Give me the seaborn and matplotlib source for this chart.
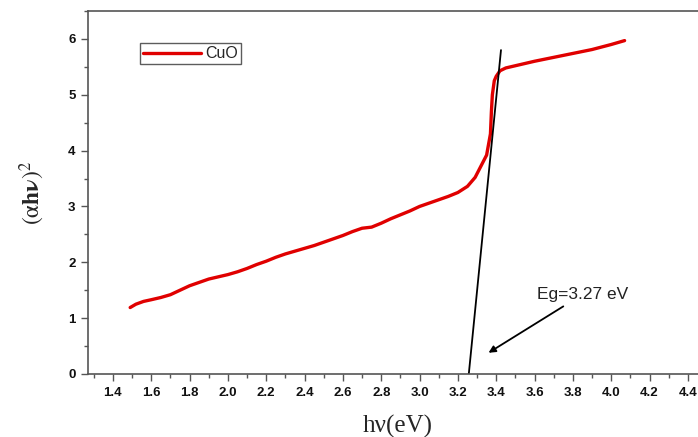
import matplotlib
matplotlib.use("Agg")
import matplotlib.pyplot as plt
import seaborn as sns
import pandas as pd
from matplotlib.ticker import MultipleLocator

# ── data ─────────────────────────────────────────────────────
energy = [1.49, 1.52, 1.56, 1.60, 1.65, 1.70, 1.75, 1.80, 1.85, 1.90, 1.95,
          2.00, 2.05, 2.10, 2.15, 2.20, 2.25, 2.30, 2.35, 2.40, 2.45, 2.50,
          2.55, 2.60, 2.65, 2.70, 2.75, 2.80, 2.85, 2.90, 2.95, 3.00, 3.05,
          3.10, 3.15, 3.20, 3.25, 3.29, 3.32, 3.35, 3.37, 3.375, 3.38, 3.39,
          3.40, 3.42, 3.45, 3.50, 3.60, 3.70, 3.80, 3.90, 4.00, 4.07]
alpha_hv2 = [1.19, 1.25, 1.30, 1.33, 1.37, 1.42, 1.50, 1.58, 1.64, 1.70, 1.74,
             1.78, 1.83, 1.89, 1.96, 2.02, 2.09, 2.15, 2.20, 2.25, 2.30, 2.36,
             2.42, 2.48, 2.55, 2.61, 2.63, 2.70, 2.78, 2.85, 2.92, 3.00, 3.06,
             3.12, 3.18, 3.25, 3.36, 3.52, 3.72, 3.92, 4.30, 4.70, 5.00, 5.25,
             5.33, 5.43, 5.48, 5.52, 5.60, 5.67, 5.74, 5.81, 5.90, 5.97]
tangent_x = [3.257, 3.425]
tangent_y = [0.0, 5.80]
eg_label = "Eg=3.27 eV"
series_name = "CuO"
xtick_vals = [1.4, 1.6, 1.8, 2.0, 2.2, 2.4, 2.6, 2.8, 3.0, 3.2, 3.4,
              3.6, 3.8, 4.0, 4.2, 4.4]
ytick_vals = [0, 1, 2, 3, 4, 5, 6]

df = pd.DataFrame({"hv": energy, "ahv2": alpha_hv2})
tan = pd.DataFrame({"hv": tangent_x, "ahv2": tangent_y})

sns.set_theme(style="ticks")
plt.rcParams["font.family"] = ["Liberation Sans", "DejaVu Sans"]
plt.rcParams["mathtext.fontset"] = "stix"

fig = plt.figure(figsize=(6.98, 4.37), dpi=100)
ax = fig.add_axes([88 / 698, 1 - 374 / 437, (707 - 88) / 698, (374 - 11) / 437])

sns.lineplot(data=df, x="hv", y="ahv2", color="#e00000", linewidth=2.4,
             estimator=None, sort=False, label=series_name, ax=ax)
sns.lineplot(data=tan, x="hv", y="ahv2", color="black", linewidth=1.3,
             estimator=None, sort=False, legend=False, ax=ax)

ax.set_xlim(1.27, 4.5)
ax.set_ylim(0, 6.5)
ax.set_xticks(xtick_vals)
ax.set_xticklabels([f"{v:.1f}" for v in xtick_vals], fontweight="bold")
ax.set_yticks(ytick_vals)
ax.set_yticklabels([str(v) for v in ytick_vals], fontweight="bold")
ax.xaxis.set_minor_locator(MultipleLocator(0.1))
ax.yaxis.set_minor_locator(MultipleLocator(0.5))
ax.tick_params(which="major", length=5, width=1, color="#555555",
               labelsize=9.5, pad=4, labelcolor="#111111")
ax.tick_params(which="minor", length=3, width=1, color="#555555")

for side in ["left", "bottom", "top", "right"]:
    ax.spines[side].set_color("#555555")
    ax.spines[side].set_linewidth(1.2)

ax.set_xlabel("h\u03bd(eV)", family=["Liberation Serif", "DejaVu Serif"],
              fontsize=18, labelpad=12)
ax.set_ylabel(r"$(\mathrm{\alpha}\mathbf{h\nu})^2$", fontsize=17, labelpad=15)

ax.annotate(eg_label, xy=(3.36, 0.38), xytext=(3.615, 1.43),
            fontsize=12.5, va="center", ha="left", color="#222222",
            arrowprops=dict(arrowstyle="-|>", color="black", lw=1.3,
                            shrinkA=2, shrinkB=0, mutation_scale=10))

leg = ax.legend(loc="upper left", bbox_to_anchor=(0.084, 0.912),
                frameon=True, fancybox=False, fontsize=11.5,
                handlelength=3.6, borderpad=0.2, handletextpad=0.3,
                borderaxespad=0)
leg.get_frame().set_edgecolor("#333333")
leg.get_frame().set_linewidth(1.0)

fig.savefig("out.png", dpi=100)
